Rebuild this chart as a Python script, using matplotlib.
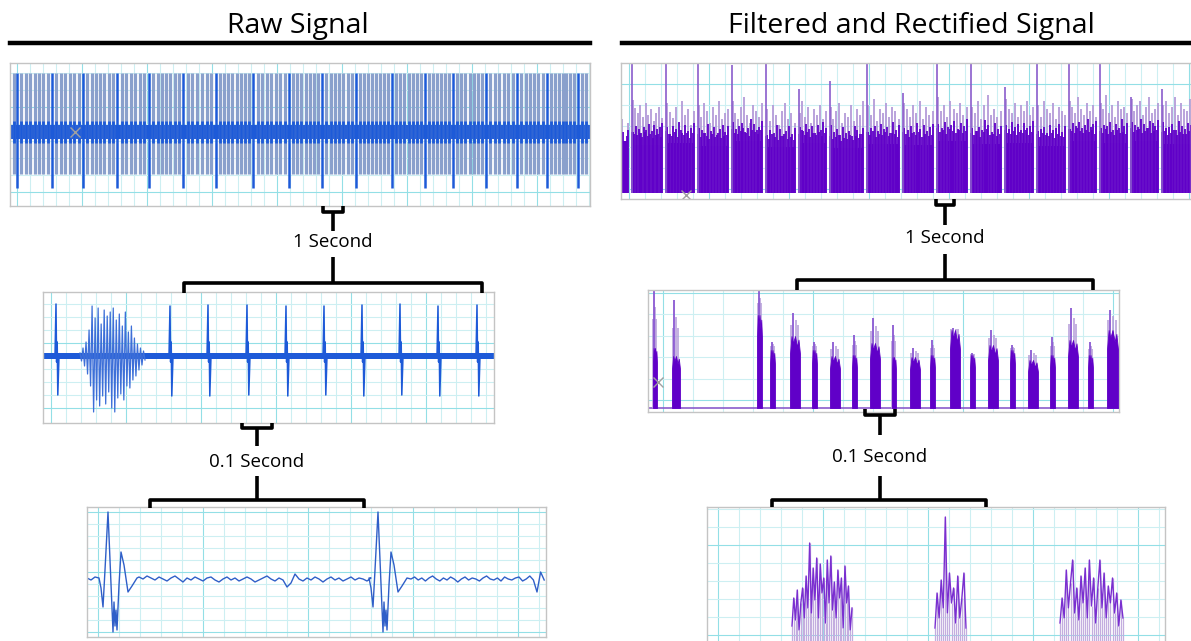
import numpy as np
import matplotlib.pyplot as plt

W, H = 1191, 641

# ---- values (x: px from panel left, y: px from baseline/centre) ----

# raw signal, long view (top left)
raw_big_x = [7, 42, 73, 107, 139, 173, 206, 243, 279, 312, 346, 382, 415, 443, 476, 507, 537, 568]
raw_small_count = [1, 7, 6, 7, 6, 7, 6, 8, 7, 7, 7, 8, 7, 6, 7, 6, 6, 7, 2]
raw_small_top, raw_small_bottom = 59, -42
raw_big_top, raw_big_bottom = 59, -56

# filtered + rectified, long view (top right)
filt_gap_x = [9, 43, 75, 109, 143, 176, 207, 244, 280, 314, 348, 382, 414, 446, 477, 508, 539]
filt_tall = [130, 130, 130, 128, 130, 104, 112, 130, 100, 130, 130, 106, 130, 130, 130, 96, 104]
filt_floor = [52, 48, 50, 47, 52, 46, 50, 45, 49, 48, 52, 49, 50, 47, 52, 50, 52, 49]
filt_peaks = [
    [74, 70],
    [93, 85, 80, 88, 76, 90, 78, 84, 72, 80, 86, 75],
    [90, 81, 75, 86, 70, 92, 78, 84, 68, 82],
    [88, 76, 90, 82, 70, 86, 78, 92, 74, 80, 84],
    [92, 80, 74, 86, 96, 78, 70, 88, 82, 76, 90],
    [84, 72, 88, 78, 68, 82, 90, 74, 80, 70],
    [80, 92, 76, 86, 70, 84, 78, 88, 74, 82],
    [86, 74, 82, 90, 70, 80, 76, 88, 72, 84, 78, 92],
    [88, 78, 94, 72, 84, 80, 90, 76, 86, 82, 74],
    [90, 84, 76, 88, 80, 92, 74, 86, 78, 82],
    [96, 82, 88, 76, 92, 84, 80, 90, 78, 86],
    [86, 80, 92, 74, 88, 98, 78, 84, 76, 82],
    [94, 84, 80, 90, 76, 88, 82, 92, 78, 86],
    [88, 76, 92, 84, 80, 90, 74, 86, 82, 78],
    [92, 86, 80, 96, 84, 78, 90, 82, 88, 76],
    [90, 84, 98, 80, 88, 76, 92, 84, 86, 80],
    [94, 82, 88, 92, 78, 86, 96, 80, 84, 90],
    [88, 92, 80, 86, 96, 78, 90, 84, 82, 94],
]

# raw signal, 1 second (middle left)
sec_spike_x = [13, 127, 165, 204, 243, 281, 319, 357, 395, 434]
sec_spike_top = [52, 50, 51, 51, 50, 50, 51, 52, 50, 51]
sec_spike_bottom = [-39, -40, -40, -39, -40, -39, -40, -39, -40, -40]
sec_burst = [3, -5, 8, -10, 14, -18, 26, -30, 50, -56, 38, -44, 48, -50, 32, -40, 46, -48,
             40, -36, 44, -52, 48, -56, 36, -42, 42, -38, 30, -44, 44, -30, 24, -32, 30, -24,
             18, -20, 12, -14, 8, -9, 5, -4]

# raw signal, 0.1 second (bottom left)
tenth_spike = [2, -8, -27, 10, 68, 20, -52, -22, -46, -30, -50, -5, 28, 15, -12, -6, 2]
tenth_spike_dx = [0, 2, 4, 6, 9, 11, 14, 15, 16, 17, 18, 20, 22, 25, 29, 33, 38]
tenth_spike_at = [12, 282]
tenth_base1 = [3, 1, 4, 2, 0, 3, 1, -1, 2, 4, 1, -2, 2, 0, 3, 1, -1, 2, 3, 0,
               -2, 1, 3, 0, 2, -1, 1, 3, 1, -2, 0, 2, 4, 1, -1, 2, 0, -7, -3, 6,
               1, -1, 2, 0, 3, 1, -2, 1, 3, 0, 2, -1, 1, 3, 0, 2, 1, -1, 2]
tenth_base2 = [1, 3, 0, 2, -1, 2, 4, 1, -1, 2, 0, 3, 1, -2, 1, 3, 0, 2, 1, -1,
               2, 4, 1, 0, 2, -1, 3, 1, 0, 2, 3, -1, 1, 4, 0, -12, 8, 0]

# filtered + rectified, 1 second (middle right)
fsec_start = [5, 24, 109, 122, 142, 164, 182, 204, 222, 244, 262, 282, 302, 322, 340, 362, 380, 402, 420, 440, 459]
fsec_end = [9, 32, 114, 127, 152, 169, 192, 209, 232, 248, 272, 287, 312, 327, 350, 367, 390, 407, 430, 445, 470]
fsec_peak = [118, 108, 118, 66, 95, 66, 66, 73, 90, 83, 60, 68, 80, 55, 78, 63, 58, 71, 100, 66, 98]
fsec_body = [60, 52, 93, 58, 72, 58, 52, 53, 65, 51, 51, 53, 78, 53, 63, 58, 48, 53, 68, 53, 78]

# filtered + rectified, 0.1 second (bottom right)
ften_start = [85, 228, 353]
ften_end = [145, 259, 416]
ften_bursts = [
    [22, 50, 28, 58, 18, 45, 60, 30, 72, 40, 105, 35, 80, 48, 90, 30, 84, 55, 70, 25,
     88, 45, 92, 38, 66, 30, 78, 50, 70, 20, 82, 45, 62, 18, 40],
    [20, 55, 30, 68, 40, 131, 35, 75, 45, 60, 25, 72, 30, 50, 75, 20],
    [25, 50, 30, 78, 40, 65, 88, 35, 60, 28, 72, 45, 80, 30, 88, 42, 70, 25, 60, 88,
     40, 75, 30, 62, 45, 70, 35, 55, 22, 48, 30],
]

BLUE = "#1d5ad8"
LIGHT_BLUE = "#8aa0cc"
PURPLE = "#6000c8"
LAVENDER = "#b49bd9"
GRID = "#cdeff2"
GRID_STRONG = "#93dfe6"

plt.rcParams["font.family"] = ["Open Sans", "DejaVu Sans"]
fig = plt.figure(figsize=(W / 100, H / 100), dpi=100)


def panel(x0, y0, x1, y1, ylo, yhi):
    ax = fig.add_axes([x0 / W, 1 - y1 / H, (x1 - x0) / W, (y1 - y0) / H])
    ax.set_xlim(0, x1 - x0)
    ax.set_ylim(ylo, yhi)
    ax.set_xticks([])
    ax.set_yticks([])
    for s in ax.spines.values():
        s.set_color("#c4c4c4")
        s.set_linewidth(1)
    return ax


def paper(ax, dx, dy, y_start, strong=5):
    x1 = ax.get_xlim()[1]
    ylo, yhi = ax.get_ylim()
    for i, x in enumerate(np.arange(dx / 2, x1, dx)):
        ax.axvline(x, color=GRID_STRONG if i % strong == 0 else GRID, lw=0.8, zorder=0)
    for i, y in enumerate(np.arange(y_start, yhi, dy)):
        if y > ylo:
            ax.axhline(y, color=GRID_STRONG if i % strong == 0 else GRID, lw=0.8, zorder=0)


# ---- top left: raw signal ----
ax = panel(10, 63, 590, 206, -74, 69)
paper(ax, 13, 17, -60)
edges = [0] + raw_big_x + [580]
small_x = []
for a, b, n in zip(edges[:-1], edges[1:], raw_small_count):
    small_x += list(np.linspace(a, b, n + 2)[1:-1])
ax.vlines(small_x, raw_small_bottom, raw_small_top, color=LIGHT_BLUE, lw=2.3)
ax.vlines(small_x, -11, 11, color=BLUE, lw=2.0)
ax.axhspan(-7, 7, color=BLUE, lw=0)
ax.vlines(raw_big_x, raw_big_bottom, raw_big_top, color=BLUE, lw=1.8)
ax.plot([65], [0], marker="x", color="#a0a0a0", ms=7, mew=1)

# ---- top right: filtered and rectified ----
ax = panel(621, 63, 1191, 199, -6, 130)
paper(ax, 16, 21, 4)
edges = [0] + filt_gap_x + [570]
for i, (a, b) in enumerate(zip(edges[:-1], edges[1:])):
    a2 = a + 1.5 if i > 0 else a
    b2 = b - 1.5 if i < len(filt_gap_x) else b
    ax.fill_between([a2, b2], 0, filt_floor[i], color=PURPLE, lw=0)
    peaks = np.array(filt_peaks[i])
    xs = np.linspace(a2 + 1, b2 - 1, len(peaks))
    ax.vlines(xs, 0, peaks, color=LAVENDER, lw=1.3)
    ax.vlines(xs + 0.8, 0, filt_floor[i] + (peaks[::-1] - filt_floor[i]) * 0.5,
              color=PURPLE, lw=1.3)
    ax.vlines(xs - 0.7, 0, filt_floor[i] + (peaks - filt_floor[i]) * 0.3,
              color=PURPLE, lw=1.3)
ax.vlines(np.array(filt_gap_x) + 2, 0, filt_tall, color="#8a5ccc", lw=1.2)
ax.plot([65], [-2], marker="x", color="#a0a0a0", ms=7, mew=1)

# ---- middle left: 1 second raw ----
ax = panel(43, 292, 494, 423, -67, 64)
paper(ax, 15, 13, -52)
ax.fill_between([0, 451], -3, 3, color=BLUE, lw=0)
ax.plot(np.linspace(37, 102, len(sec_burst)), sec_burst, color="#3d6fd8", lw=0.9)
for x, t, b in zip(sec_spike_x, sec_spike_top, sec_spike_bottom):
    ax.plot([x - 1, x, x + 0.6, x + 1.2, x + 1.8, x + 3],
            [0, t, -6, 14, b, 0], color=BLUE, lw=1.1)

# ---- bottom left: 0.1 second raw ----
ax = panel(87, 507, 546, 637, -57, 73)
paper(ax, 21, 12, -52)
tx = list(np.arange(0, 12, 4))
ty = [2, 0, 3]
tx += list(tenth_spike_at[0] + np.array(tenth_spike_dx))
ty += tenth_spike
tx += list(np.arange(52, 52 + 4 * len(tenth_base1), 4))
ty += tenth_base1
tx += list(tenth_spike_at[1] + np.array(tenth_spike_dx))
ty += tenth_spike
tx += list(np.arange(324, 324 + 3.6 * len(tenth_base2), 3.6))[:len(tenth_base2)]
ty += tenth_base2
ax.plot(tx, ty, color="#2f5fc8", lw=1.0)

# ---- middle right: 1 second filtered ----
ax = panel(648, 290, 1119, 412, -4, 118)
paper(ax, 30, 21.5, 8)
ax.axhline(0, color="#8a5ccc", lw=1.2)
for s, e, p, b in zip(fsec_start, fsec_end, fsec_peak, fsec_body):
    w = e - s
    ax.vlines([s + 0.1 * w, s + 0.55 * w, s + 0.8 * w], 0,
              [(p + b) / 2, b + (p - b) * 0.7, (p + b) / 2], color=LAVENDER, lw=1.1, zorder=2)
    ax.vlines([s + 0.3 * w], 0, p, color="#8a58d2", lw=1.3, zorder=2)
    ax.fill_between([s, s + 0.15 * w, s + 0.3 * w, s + 0.5 * w, s + 0.7 * w, s + 0.85 * w, e],
                    0, [0.75 * b, b, 0.9 * b, b, 0.85 * b, 0.95 * b, 0.75 * b],
                    color=PURPLE, lw=0.6, edgecolor=PURPLE, zorder=3)
ax.plot([10], [26], marker="x", color="#a0a0a0", ms=7, mew=1, zorder=4)

# ---- bottom right: 0.1 second filtered ----
ax = panel(707, 507, 1165, 641, 7, 141)
ax.spines["bottom"].set_visible(False)
paper(ax, 21, 18, 13)
for s, e, vals in zip(ften_start, ften_end, ften_bursts):
    xs = np.linspace(s, e, len(vals))
    ax.vlines(xs, 0, vals, color="#c3addf", lw=0.9)
    ax.plot(xs, vals, color="#7a2fd0", lw=1.0)

# ---- titles and brackets ----
ov = fig.add_axes([0, 0, 1, 1], zorder=10)
ov.set_xlim(0, W)
ov.set_ylim(H, 0)
ov.axis("off")
ov.patch.set_alpha(0)

kw = dict(color="black", lw=2.6, solid_joinstyle="round", solid_capstyle="butt")
ov.plot([10, 590], [43, 43], color="black", lw=3.2)
ov.plot([622, 1191], [43, 43], color="black", lw=3.2)
ov.text(298, 26, "Raw Signal", ha="center", va="center", fontsize=20.5)
ov.text(911, 26, "Filtered and Rectified Signal", ha="center", va="center", fontsize=20.5)


def bracket(cx, small_half, small_top, small_bottom, stem1_end, label, label_y,
            stem2_start, big_x0, big_x1, big_y, big_end):
    ov.plot([cx - small_half, cx - small_half, cx + small_half, cx + small_half],
            [small_top, small_bottom, small_bottom, small_top], **kw)
    ov.plot([cx, cx], [small_bottom, stem1_end], **kw)
    ov.text(cx, label_y, label, ha="center", va="center", fontsize=13.5)
    ov.plot([cx, cx], [stem2_start, big_y], **kw)
    ov.plot([big_x0, big_x0, big_x1, big_x1], [big_end, big_y, big_y, big_end], **kw)


bracket(333, 10, 206, 212, 231, "1 Second", 242, 257, 184, 482, 283, 293)
bracket(257, 15, 423, 428, 446, "0.1 Second", 462, 476, 150, 364, 500, 508)
bracket(945, 9, 199, 205, 225, "1 Second", 238, 254, 797, 1093, 280, 290)
bracket(880, 15, 409, 415, 435, "0.1 Second", 457, 476, 772, 986, 500, 507)

fig.savefig("out.png", dpi=100)
